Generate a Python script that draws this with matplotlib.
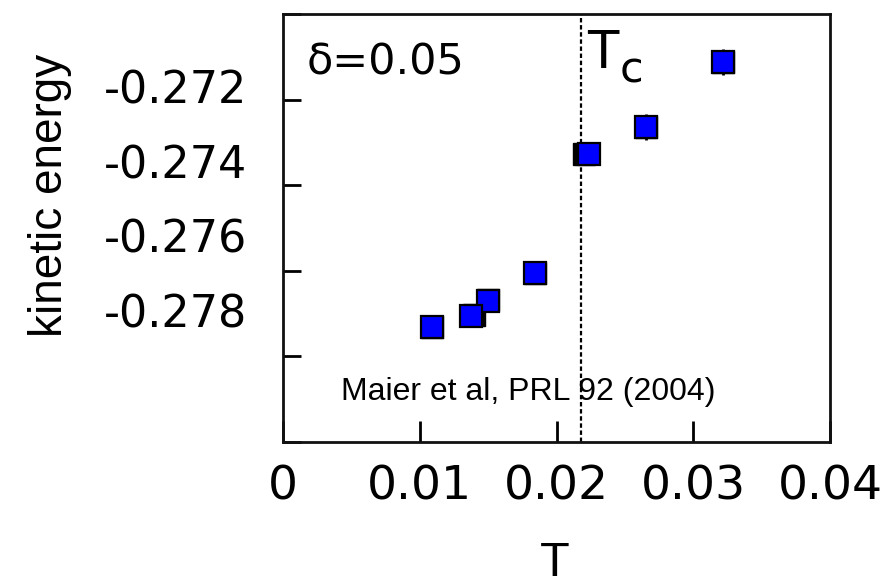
import matplotlib
matplotlib.use("Agg")
import matplotlib.pyplot as plt

# Kinetic energy vs temperature, delta = 0.05
T_blue = [0.03214, 0.02651, 0.02241, 0.01843, 0.01499, 0.01378, 0.01090]
E_blue = [-0.27112, -0.27264, -0.27328, -0.27604, -0.27671, -0.27706, -0.27731]
# second (black) set, mostly hidden under the blue squares
T_black = [0.03214, 0.02651, 0.02201, 0.01843, 0.01499, 0.01397, 0.01090]
E_black = [-0.27112, -0.27264, -0.27326, -0.27604, -0.27668, -0.27703, -0.27731]
T_err = [0.0001, 0.0001, 0.0001, 0, 0, 0, 0]
E_err = [0.0003, 0.0003, 0.0002, 0, 0, 0, 0]

Tc = 0.0218

x_ticks = [0.0, 0.01, 0.02, 0.03, 0.04]
x_ticklabels = ["0", "0.01", "0.02", "0.03", "0.04"]
y_ticks = [-0.280, -0.278, -0.276, -0.274, -0.272, -0.270]
y_label_vals = [-0.278, -0.276, -0.274, -0.272]
y_ticklabels = ["-0.278", "-0.276", "-0.274", "-0.272"]

W, H = 889, 587
fig = plt.figure(figsize=(W / 100, H / 100), dpi=100)
fig.patch.set_facecolor("white")

left, right, bottom, top = 283, 830, 442, 14
pos = [left / W, 1 - bottom / H, (right - left) / W, (bottom - top) / H]
ax = fig.add_axes(pos)

ax.set_xlim(0, 0.04)
ax.set_ylim(-0.280, -0.270)

for s in ax.spines.values():
    s.set_linewidth(2)
    s.set_color("#111111")

ax.axvline(Tc, color="black", lw=1.6, linestyle=(0, (2.0, 1.2)), zorder=1)

ax.errorbar(T_blue, E_blue, xerr=T_err, yerr=E_err, fmt="none",
            ecolor="black", elinewidth=2, capsize=0, zorder=2)
ax.plot(T_black, E_black, linestyle="none", marker="s", markersize=16.5,
        markerfacecolor="black", markeredgecolor="black", zorder=3)
ax.plot(T_blue, E_blue, linestyle="none", marker="s", markersize=15.5,
        markerfacecolor="#0000ff", markeredgecolor="black",
        markeredgewidth=1.6, zorder=4)

ax.set_xticks(x_ticks)
ax.set_xticklabels(x_ticklabels, fontsize=34, family="DejaVu Sans")
ax.tick_params(axis="x", direction="in", length=15, width=2, pad=16)
ax.set_yticks(y_ticks)
ax.set_yticklabels([])
ax.tick_params(axis="y", direction="in", length=13, width=2)

# tick labels of the energy axis sit on their own scale
lab = fig.add_axes(pos, frameon=False)
lab.set_ylim(-0.28154, -0.27005)
lab.set_xticks([])
lab.set_yticks(y_label_vals)
lab.set_yticklabels(y_ticklabels, fontsize=32, family="DejaVu Sans")
lab.tick_params(axis="y", length=0, pad=26)
lab.patch.set_alpha(0)

ax.set_xlabel("T", fontsize=35, family="Liberation Sans")
ax.xaxis.label.set_verticalalignment("baseline")
ax.xaxis.set_label_coords(0.497, -0.3125)
ax.set_ylabel("kinetic energy", fontsize=33, family="Liberation Sans")
ax.yaxis.set_label_coords(-0.386, 0.576)

ax.text(0.044, 0.8575, "\u03b4=0.05", transform=ax.transAxes,
        fontsize=31, family="DejaVu Sans", va="baseline", ha="left")
ax.text(0.5558, 0.8738, "T", transform=ax.transAxes,
        fontsize=37, family="DejaVu Sans", va="baseline", ha="left")
ax.text(0.6161, 0.8411, "c", transform=ax.transAxes,
        fontsize=31, family="DejaVu Sans", va="baseline", ha="left")
ax.text(0.106, 0.098, "Maier et al, PRL 92 (2004)", transform=ax.transAxes,
        fontsize=23, family="Liberation Sans", va="baseline", ha="left",
        zorder=0)

fig.savefig("out.png", dpi=100, facecolor="white")
